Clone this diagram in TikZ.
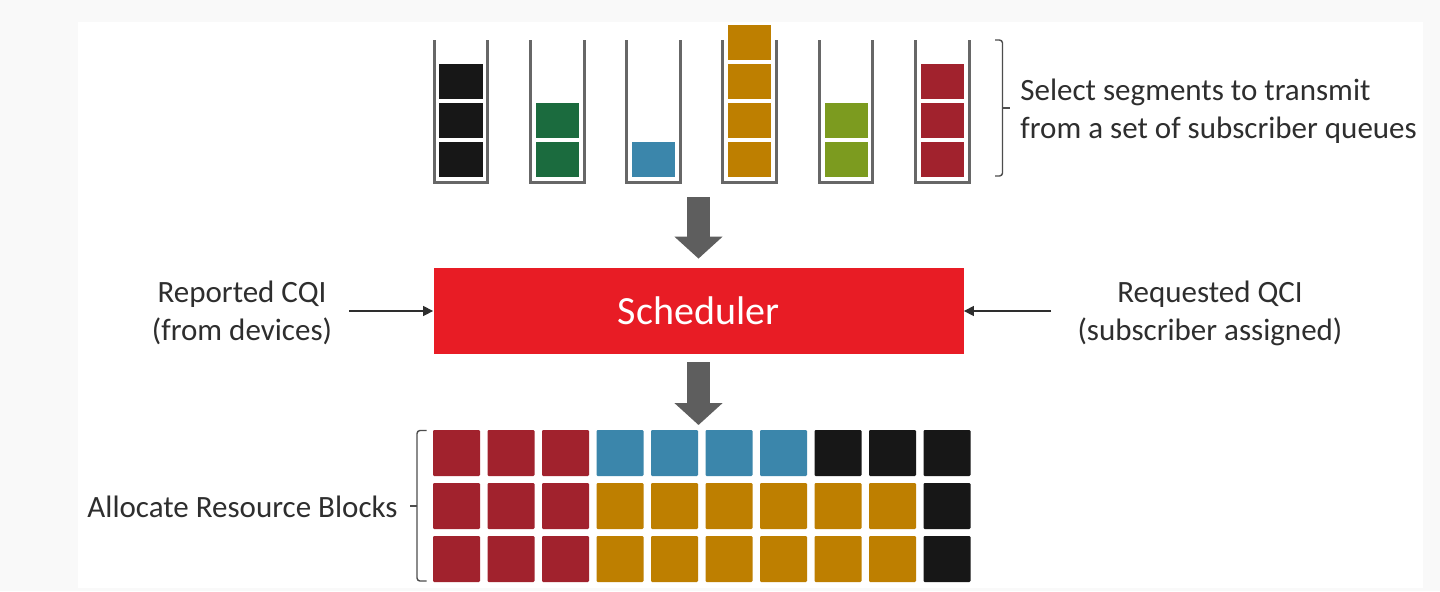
\documentclass[tikz,border=0pt]{standalone}
\usepackage{fontspec}
\setmainfont{Carlito}
\usepackage{tikz}
\usetikzlibrary{arrows.meta}
\usepackage{xcolor}
\definecolor{qblack}{HTML}{171717}
\definecolor{qgreen}{HTML}{1B6B3E}
\definecolor{qblue}{HTML}{3B86AB}
\definecolor{qorange}{HTML}{BE7F00}
\definecolor{qlime}{HTML}{7C9B1F}
\definecolor{qred}{HTML}{A1222D}
\definecolor{schedred}{HTML}{E81C25}
\definecolor{arrowgrey}{HTML}{5E5E5E}
\definecolor{wallgrey}{HTML}{676767}
\definecolor{textgrey}{HTML}{2E2E2E}
\definecolor{pagegrey}{HTML}{F9F9F9}

\begin{document}
\begin{tikzpicture}[x=0.5pt, y=-0.5pt,
    wall/.style={draw=wallgrey, line width=1.5pt},
    brace/.style={draw=textgrey!85, line width=0.7pt, rounded corners=1.5pt},
    lbl/.style={text=textgrey, inner sep=0pt, align=center,
        font=\fontsize{15.5}{19}\selectfont},
    sched/.style={fill=schedred, text=white, minimum width=265pt,
        minimum height=43pt, font=\fontsize{20}{24}\selectfont},
    thinarrow/.style={draw=textgrey, line width=0.7pt,
        -{Triangle[length=5pt, width=5pt]}},
    bigarrow/.style={draw=arrowgrey, line width=11.5pt,
        -{Triangle[width=23.5pt, length=11pt]}}]
    \useasboundingbox (0,0) rectangle (1440,591);
    \fill[pagegrey] (0,0) rectangle (1440,591);
    \fill[white] (78,22) rectangle (1423,588);

    % subscriber queues
    \foreach \n/\col [count=\k from 0] in {3/qblack,2/qgreen,1/qblue,4/qorange,2/qlime,3/qred} {
        \pgfmathsetmacro{\xl}{434+96.3*\k}
        \draw[wall] (\xl,40) -- (\xl,182) -- ({\xl+53.7},182) -- ({\xl+53.7},40);
        \foreach \i in {1,...,\n}
            \fill[\col] ({\xl+5.3},{177-39*(\i-1)}) rectangle ({\xl+48.5},{142-39*(\i-1)});
    }
    \draw[brace] (995,40) -- (1002.5,40) -- (1002.5,176) -- (995,176);
    \draw[brace] (1002.5,108) -- (1010,108);
    \node[lbl, anchor=west, align=left] (select) at (1020,111)
        {Select segments to transmit\\from a set of subscriber queues};

    % scheduler and its inputs
    \node[sched] (sched) at (698.5,311) {Scheduler};
    \node[lbl] (cqi) at (242,313) {Reported CQI\\(from devices)};
    \node[lbl] (qci) at (1210,313) {Requested QCI\\(subscriber assigned)};
    \draw[thinarrow, shorten <=8.5pt] (cqi.east |- sched.west) -- (sched.west);
    \draw[thinarrow, shorten <=13pt] (qci.west |- sched.east) -- (sched.east);

    \coordinate (qfoot) at (698.5,197);
    \coordinate (gridtop) at (698.5,430);
    \draw[bigarrow, shorten >=4.5pt] (qfoot) -- (sched.north);
    \draw[bigarrow, shorten <=4pt, shorten >=2.5pt] (sched.south) -- (gridtop);

    % resource blocks
    \foreach \col [count=\c from 0] in {qred,qred,qred,qblue,qblue,qblue,qblue,qblack,qblack,qblack}
        \fill[\col, rounded corners=0.6pt] ({433+54.5*\c},430) rectangle ++(47,46);
    \foreach \r in {1,2}
        \foreach \col [count=\c from 0] in {qred,qred,qred,qorange,qorange,qorange,qorange,qorange,qorange,qblack}
            \fill[\col, rounded corners=0.6pt] ({433+54.5*\c},{430+53*\r}) rectangle ++(47,46);
    \draw[brace] (426.5,430.5) -- (417,430.5) -- (417,581) -- (426.5,581);
    \draw[brace] (417,506) -- (410,506);
    \node[lbl, anchor=east] (alloc) at (398,507) {Allocate Resource Blocks};
\end{tikzpicture}
\end{document}
